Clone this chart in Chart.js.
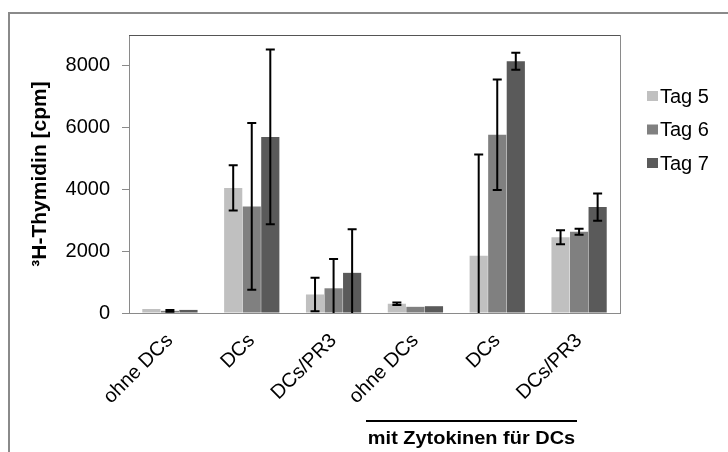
<!doctype html>
<html lang="de">
<head>
<meta charset="UTF-8">
<title>3H-Thymidin</title>
<script src="https://cdn.jsdelivr.net/npm/chart.js"></script>
<style>
  body { margin: 0; background: #fff; font-family: "Liberation Sans", Arial, sans-serif; }
  .wrap { position: relative; width: 728px; height: 452px; overflow: hidden; }
  .frame { position: absolute; left: 8px; top: 12px; width: 740px; height: 460px; border-left: 2px solid #8a8a8a; border-top: 2px solid #8a8a8a; }
  canvas { position: absolute; left: 0; top: 0; }
  .group-line { position: absolute; left: 366px; top: 420px; width: 211px; border-top: 2px solid #000; }
  .group-text { position: absolute; left: 356px; top: 427px; width: 231px; text-align: center; font-weight: bold; font-size: 19px; color: #000; white-space: nowrap; transform: scaleX(1.05); }
</style>
</head>
<body>
<div class="wrap">
  <div class="frame"></div>
  <canvas id="chart" width="728" height="452"></canvas>
  <div class="group-line"></div>
  <div class="group-text">mit Zytokinen für DCs</div>
</div>
<script>
// ——— DATEN ———
const categories = ["ohne DCs", "DCs", "DCs/PR3", "ohne DCs", "DCs", "DCs/PR3"];
const seriesNames = ["Tag 5", "Tag 6", "Tag 7"];
const seriesColors = ["#c0c0c0", "#808080", "#5a5a5a"];
const tag5 = [130, 4050, 600, 300, 1850, 2450];
const tag6 = [70, 3450, 800, 200, 5770, 2630];
const tag7 = [100, 5700, 1300, 220, 8150, 3430];
const err5 = [0, 730, 540, 40, 3280, 225];
const err6 = [30, 2700, 950, 0, 1790, 100];
const err7 = [0, 2830, 1410, 0, 275, 440];
const yTicks = [0, 2000, 4000, 6000, 8000];

const values = [tag5, tag6, tag7];
const errors = [err5, err6, err7];
const FONT = "'Liberation Sans', Arial, sans-serif";

// Fehlerbalken
const errorBars = {
  id: "errorBars",
  afterDatasetsDraw(chart) {
    const { ctx, chartArea, scales } = chart;
    const y = scales.y;
    ctx.save();
    ctx.beginPath();
    ctx.rect(chartArea.left, chartArea.top - 2, chartArea.right - chartArea.left, chartArea.bottom - chartArea.top + 2);
    ctx.clip();
    ctx.strokeStyle = "#000";
    ctx.lineWidth = 2;
    chart.data.datasets.forEach((ds, i) => {
      const meta = chart.getDatasetMeta(i);
      meta.data.forEach((bar, j) => {
        const e = errors[i][j];
        if (!e) return;
        const v = ds.data[j];
        const yTop = y.getPixelForValue(v + e);
        const yBot = y.getPixelForValue(v - e);
        const cap = 4.5;
        ctx.beginPath();
        ctx.moveTo(bar.x, yTop);
        ctx.lineTo(bar.x, yBot);
        ctx.moveTo(bar.x - cap, yTop);
        ctx.lineTo(bar.x + cap, yTop);
        if (v - e >= 0) {
          ctx.moveTo(bar.x - cap, yBot);
          ctx.lineTo(bar.x + cap, yBot);
        }
        ctx.stroke();
      });
    });
    ctx.restore();
  }
};

// Rahmen oben / rechts
const plotFrame = {
  id: "plotFrame",
  afterDraw(chart) {
    const { ctx, chartArea: a } = chart;
    ctx.save();
    ctx.lineWidth = 1;
    ctx.strokeStyle = "#555";
    ctx.beginPath();
    ctx.moveTo(a.left, a.top + 0.5);
    ctx.lineTo(a.right, a.top + 0.5);
    ctx.stroke();
    ctx.strokeStyle = "#8a8a8a";
    ctx.beginPath();
    ctx.moveTo(a.right + 0.5, a.top);
    ctx.lineTo(a.right + 0.5, a.bottom);
    ctx.stroke();
    ctx.restore();
  }
};

// Legende rechts
const sideLegend = {
  id: "sideLegend",
  afterDraw(chart) {
    const { ctx } = chart;
    ctx.save();
    ctx.font = "20px " + FONT;
    ctx.textBaseline = "middle";
    chart.data.datasets.forEach((ds, i) => {
      const cy = 96 + i * 33.5;
      ctx.fillStyle = ds.backgroundColor;
      ctx.fillRect(647, cy - 5, 11, 10);
      ctx.fillStyle = "#000";
      ctx.fillText(ds.label, 660, cy + 1);
    });
    ctx.restore();
  }
};

new Chart(document.getElementById("chart"), {
  type: "bar",
  data: {
    labels: categories,
    datasets: seriesNames.map((name, i) => ({
      label: name,
      data: values[i],
      backgroundColor: seriesColors[i],
      borderWidth: 0,
      categoryPercentage: 0.68,
      barPercentage: 0.98
    }))
  },
  options: {
    responsive: false,
    animation: false,
    layout: { padding: { top: 35, right: 108, left: 0, bottom: 0 } },
    plugins: { legend: { display: false }, tooltip: { enabled: false } },
    scales: {
      x: {
        grid: { display: false },
        border: { display: true, color: "#8a8a8a", width: 1 },
        ticks: { color: "#000", font: { family: FONT, size: 20 }, minRotation: 45, maxRotation: 45, padding: 8 },
        afterFit(scale) { scale.height = 139; }
      },
      y: {
        min: 0,
        max: 9000,
        afterBuildTicks(scale) { scale.ticks = yTicks.map(v => ({ value: v })); },
        afterFit(scale) { scale.width = 129; },
        grid: { drawOnChartArea: false, drawTicks: true, tickLength: 7, color: "#8a8a8a" },
        border: { display: true, color: "#8a8a8a", width: 1 },
        ticks: { color: "#000", font: { family: FONT, size: 20 }, padding: 12, callback: v => String(v) },
        title: {
          display: true,
          text: "³H-Thymidin [cpm]",
          color: "#000",
          font: { family: FONT, size: 21, weight: "bold" },
          padding: { top: 28, bottom: 0 }
        }
      }
    }
  },
  plugins: [errorBars, plotFrame, sideLegend]
});
</script>
</body>
</html>
